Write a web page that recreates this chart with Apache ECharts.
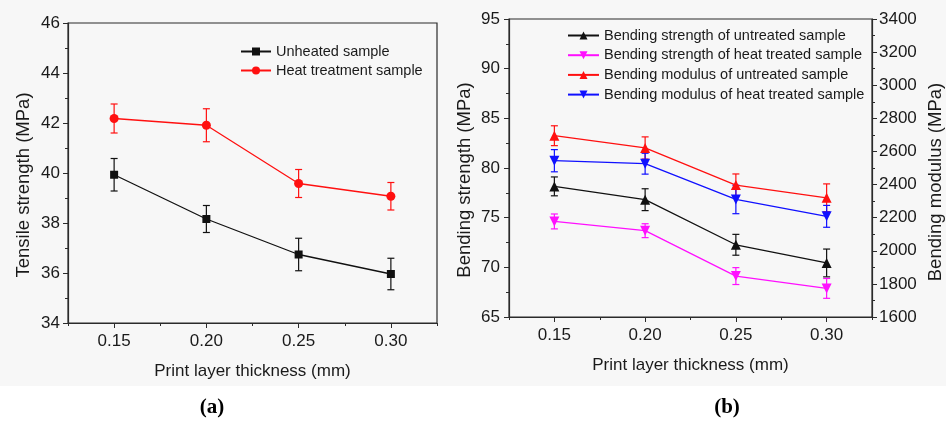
<!DOCTYPE html>
<html>
<head>
<meta charset="utf-8">
<script src="https://cdn.jsdelivr.net/npm/echarts@6/dist/echarts.min.js"></script>
<style>
  html, body { margin: 0; padding: 0; }
  body { background: linear-gradient(to bottom, #f7f7f7 0px, #f7f7f7 386px, #ffffff 386px); }
  #chart { width: 946px; height: 423px; }
</style>
</head>
<body>
<div id="chart"></div>
<script>
// Print layer thickness (mm)
const thickness = ['0.15', '0.20', '0.25', '0.30'];

// (a) Tensile strength (MPa): mean and error
const tensileUnheated = [39.93, 38.16, 36.74, 35.96];
const tensileUnheatedErr = [0.65, 0.54, 0.65, 0.63];
const tensileHeated = [42.18, 41.91, 39.58, 39.07];
const tensileHeatedErr = [0.58, 0.66, 0.56, 0.55];

// (b) Bending strength (MPa), left axis
const bendStrUntreated = [78.15, 76.81, 72.27, 70.44];
const bendStrUntreatedErr = [0.95, 1.1, 1.05, 1.4];
const bendStrHeated = [74.62, 73.69, 69.12, 67.88];
const bendStrHeatedErr = [0.75, 0.7, 0.85, 1.0];

// (b) Bending modulus (MPa), right axis
const bendModUntreated = [2695, 2621, 2397, 2320];
const bendModUntreatedErr = [60, 67, 67, 84];
const bendModHeated = [2544, 2526, 2310, 2208];
const bendModHeatedErr = [67, 63, 86, 66];

const FONT = 'Liberation Sans, Arial, sans-serif';
const AXIS_COLOR = '#2b2b2b';
const TEXT_COLOR = '#1a1a1a';
const TICK_FONT = 17;
const TITLE_FONT_X = 17;
const TITLE_FONT_Y = 18.5;
const LEGEND_FONT = 14.5;

function errorItems(values, errs) {
  return values.map((v, i) => [i, v, errs[i]]);
}

function errorRender(color) {
  return function (params, api) {
    const x = api.value(0), v = api.value(1), e = api.value(2);
    const top = api.coord([x, v + e]);
    const bot = api.coord([x, v - e]);
    const half = 3.5;
    const style = { stroke: color, lineWidth: 1.2 };
    return {
      type: 'group',
      children: [
        { type: 'line', shape: { x1: top[0], y1: top[1], x2: bot[0], y2: bot[1] }, style },
        { type: 'line', shape: { x1: top[0] - half, y1: top[1], x2: top[0] + half, y2: top[1] }, style },
        { type: 'line', shape: { x1: bot[0] - half, y1: bot[1], x2: bot[0] + half, y2: bot[1] }, style }
      ]
    };
  };
}

function errorSeries(name, values, errs, color, xi, yi) {
  return {
    name: name,
    type: 'custom',
    xAxisIndex: xi,
    yAxisIndex: yi,
    renderItem: errorRender(color),
    encode: { x: 0, y: 1 },
    data: errorItems(values, errs),
    z: 2,
    silent: true
  };
}

function lineSeries(name, values, color, symbol, size, rotate, xi, yi) {
  return {
    name: name,
    type: 'line',
    xAxisIndex: xi,
    yAxisIndex: yi,
    data: values,
    symbol: symbol,
    symbolSize: size,
    symbolRotate: rotate,
    showSymbol: true,
    lineStyle: { color: color, width: 1.3 },
    itemStyle: { color: color },
    z: 3,
    animation: false
  };
}

function categoryAxes(gridIndex) {
  const common = {
    type: 'category',
    gridIndex: gridIndex,
    data: thickness,
    boundaryGap: true,
    position: 'bottom',
    axisLine: { show: true, lineStyle: { color: AXIS_COLOR, width: 1.2 } },
    splitLine: { show: false }
  };
  return [
    Object.assign({}, common, {
      name: 'Print layer thickness (mm)',
      nameLocation: 'middle',
      nameGap: 40,
      nameTextStyle: { fontFamily: FONT, fontSize: TITLE_FONT_X, color: TEXT_COLOR },
      axisTick: { show: true, alignWithLabel: true, length: 5, lineStyle: { color: AXIS_COLOR } },
      axisLabel: { margin: 10, fontFamily: FONT, fontSize: TICK_FONT, color: TEXT_COLOR }
    }),
    // minor ticks between the labelled thicknesses
    Object.assign({}, common, {
      axisTick: { show: true, alignWithLabel: false, length: 3, lineStyle: { color: AXIS_COLOR } },
      axisLabel: { show: false }
    })
  ];
}

function valueAxis(opts, labelMargin, namePad) {
  return Object.assign({
    type: 'value',
    nameLocation: 'middle',
    nameRotate: 90,
    nameTextStyle: { fontFamily: FONT, fontSize: TITLE_FONT_Y, color: TEXT_COLOR, padding: [0, namePad, 0, 0] },
    axisLine: { show: true, lineStyle: { color: AXIS_COLOR, width: 1.2 } },
    axisTick: { show: true, length: 5, lineStyle: { color: AXIS_COLOR } },
    minorTick: { show: true, splitNumber: 2, length: 3, lineStyle: { color: AXIS_COLOR } },
    splitLine: { show: false },
    minorSplitLine: { show: false },
    axisLabel: { fontFamily: FONT, fontSize: TICK_FONT, color: TEXT_COLOR, margin: labelMargin, formatter: (v) => String(v) }
  }, opts);
}

const BLACK = '#111111', RED = '#ff1010', MAGENTA = '#ff10ff', BLUE = '#1010ff';

function panelLabel(letter, x) {
  return {
    text: '{p|(}{b|' + letter + '}{p|)}',
    left: x, top: 392, textAlign: 'center',
    textStyle: { rich: {
      p: { fontFamily: 'Liberation Serif, serif', fontSize: 21, color: '#000' },
      b: { fontFamily: 'Liberation Serif, serif', fontSize: 21, fontWeight: 'bold', color: '#000' }
    } }
  };
}

const option = {
  animation: false,
  textStyle: { fontFamily: FONT },
  grid: [
    { left: 68, top: 23, width: 369, height: 300, show: true, borderColor: AXIS_COLOR, borderWidth: 1.2, backgroundColor: 'transparent' },
    { left: 509, top: 19, width: 367, height: 298, show: true, borderColor: AXIS_COLOR, borderWidth: 1.2, backgroundColor: 'transparent' }
  ],
  title: [panelLabel('a', 207), panelLabel('b', 722)],
  legend: [
    {
      data: ['Unheated sample', 'Heat treatment sample'],
      orient: 'vertical',
      left: 240, top: 44, padding: 0,
      itemWidth: 30, itemHeight: 10, itemGap: 4,
      textStyle: { fontFamily: FONT, fontSize: LEGEND_FONT, color: TEXT_COLOR },
      selectedMode: false
    },
    {
      data: [
        'Bending strength of untreated sample',
        'Bending strength of heat treated sample',
        'Bending modulus of untreated sample',
        'Bending modulus of heat treated sample'
      ],
      orient: 'vertical',
      left: 567, top: 28, padding: 0,
      itemWidth: 31, itemHeight: 10, itemGap: 4.7,
      textStyle: { fontFamily: FONT, fontSize: LEGEND_FONT, color: TEXT_COLOR },
      selectedMode: false
    }
  ],
  xAxis: categoryAxes(0).concat(categoryAxes(1)),
  yAxis: [
    valueAxis({ gridIndex: 0, min: 34, max: 46, interval: 2, name: 'Tensile strength (MPa)', nameGap: 35 }, 8, 24),
    valueAxis({ gridIndex: 1, min: 65, max: 95, interval: 5, name: 'Bending strength (MPa)', nameGap: 35 }, 9, 24),
    valueAxis({ gridIndex: 1, position: 'right', min: 1600, max: 3400, interval: 200, name: 'Bending modulus (MPa)', nameGap: 54 }, 7, 28)
  ],
  series: [
    errorSeries('err-unheated', tensileUnheated, tensileUnheatedErr, BLACK, 0, 0),
    errorSeries('err-heated', tensileHeated, tensileHeatedErr, RED, 0, 0),
    lineSeries('Unheated sample', tensileUnheated, BLACK, 'rect', 8, 0, 0, 0),
    lineSeries('Heat treatment sample', tensileHeated, RED, 'circle', 9, 0, 0, 0),

    errorSeries('err-bs-untreated', bendStrUntreated, bendStrUntreatedErr, BLACK, 2, 1),
    errorSeries('err-bs-heated', bendStrHeated, bendStrHeatedErr, MAGENTA, 2, 1),
    errorSeries('err-bm-untreated', bendModUntreated, bendModUntreatedErr, RED, 2, 2),
    errorSeries('err-bm-heated', bendModHeated, bendModHeatedErr, BLUE, 2, 2),
    lineSeries('Bending strength of untreated sample', bendStrUntreated, BLACK, 'triangle', 10, 0, 2, 1),
    lineSeries('Bending strength of heat treated sample', bendStrHeated, MAGENTA, 'triangle', 10, 180, 2, 1),
    lineSeries('Bending modulus of untreated sample', bendModUntreated, RED, 'triangle', 10, 0, 2, 2),
    lineSeries('Bending modulus of heat treated sample', bendModHeated, BLUE, 'triangle', 10, 180, 2, 2)
  ]
};

const chart = echarts.init(document.getElementById('chart'), null, { renderer: 'canvas' });
chart.setOption(option);
</script>
</body>
</html>
